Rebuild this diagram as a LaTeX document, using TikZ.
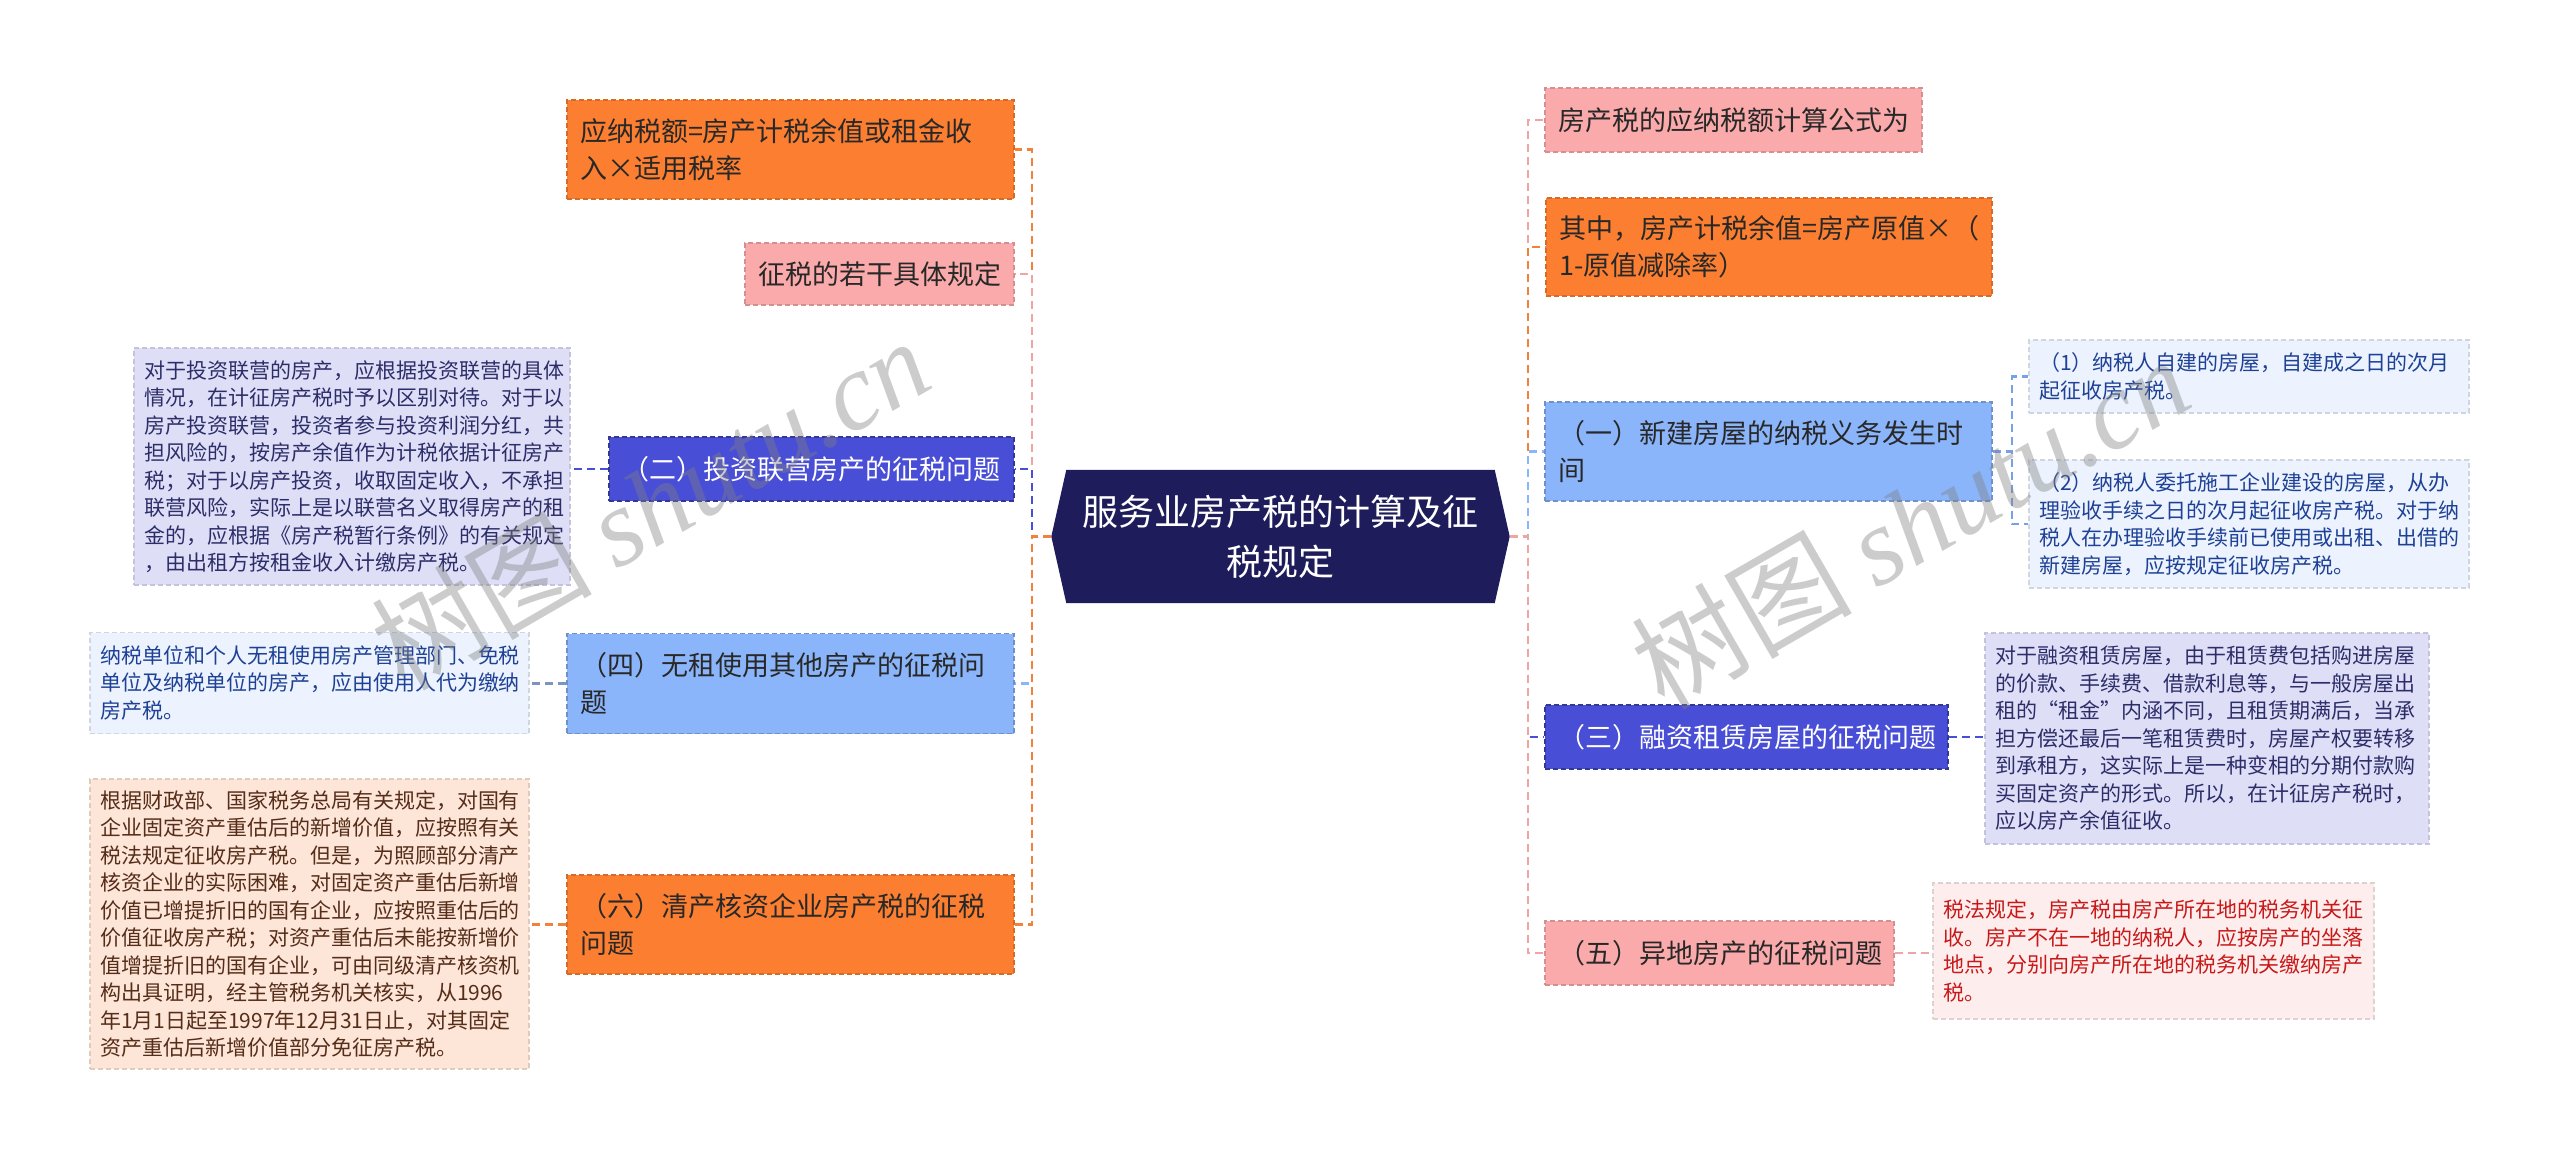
\documentclass[tikz,border=0pt]{standalone}
\usepackage{fontspec}
\setmainfont{Noto Sans CJK SC}
\newfontfamily\wmlatin{Liberation Serif}
\usetikzlibrary{backgrounds}
\definecolor{cOrange}{RGB}{252,126,48}
\definecolor{cPink}{RGB}{250,170,170}
\definecolor{cIndigo}{RGB}{73,78,214}
\definecolor{cLBlue}{RGB}{139,181,250}
\definecolor{cNavy}{RGB}{30,28,90}
\definecolor{cDark}{RGB}{40,40,40}
\definecolor{dLav}{RGB}{222,223,247}
\definecolor{dBlue}{RGB}{236,243,254}
\definecolor{dPeach}{RGB}{253,229,216}
\definecolor{dPink}{RGB}{253,237,237}
\definecolor{tNavy}{RGB}{45,45,105}
\definecolor{tBlue}{RGB}{30,65,150}
\definecolor{tBrown}{RGB}{85,45,25}
\definecolor{tRed}{RGB}{200,25,25}
\definecolor{eOrange}{RGB}{240,130,60}
\definecolor{ePink}{RGB}{240,165,165}
\definecolor{eIndigo}{RGB}{73,78,214}
\definecolor{eLBlue}{RGB}{139,181,250}
\definecolor{eGrayBlue}{RGB}{120,150,190}
\definecolor{eBracket}{RGB}{120,160,230}
\begin{document}
\begin{tikzpicture}[x=1pt,y=-1pt,
  conn/.style={line width=2.2pt, dash pattern=on 8pt off 5pt},
  mbox/.style={rectangle, line width=1.3pt, dash pattern=on 5pt off 3pt, inner xsep=13pt, inner ysep=6pt, align=left, font=\fontsize{27}{37}\selectfont},
  dbox/.style={rectangle, line width=1.1pt, dash pattern=on 5pt off 3pt, inner xsep=10pt, inner ysep=6pt, align=left, font=\fontsize{21}{27.5}\selectfont},
  wm/.style={text=gray, opacity=0.4, font=\fontsize{110}{120}\selectfont, inner sep=0pt},
]
\useasboundingbox (0,0) rectangle (2560,1159);

% central node
\node[font=\fontsize{36}{50}\selectfont, text=white, align=center, minimum width=428pt, minimum height=133pt, inner sep=0pt] (c) at (1280.5,536.5) {服务业房产税的计算及征\\税规定};
\coordinate (cL) at ([xshift=-15pt]c.west);
\coordinate (cR) at ([xshift=15pt]c.east);
\begin{scope}[on background layer]
\fill[white] (0,0) rectangle (2560,1159);
\fill[cNavy] (c.north west) -- (c.north east) -- (cR) -- (c.south east) -- (c.south west) -- (cL) -- cycle;
\end{scope}

% left main boxes
\node[mbox, fill=cOrange, draw=cOrange!85!black, text=cDark, minimum width=447pt, minimum height=99pt, text width=421pt] (l1) at (790.5,149.5) {应纳税额=房产计税余值或租金收\\入×适用税率};
\node[mbox, fill=cPink, draw=cPink!85!black, text=cDark, minimum width=269pt, minimum height=62pt, text width=243pt] (l2) at (879.5,274) {征税的若干具体规定};
\node[mbox, fill=cIndigo, draw=cIndigo!70!black, text=white, minimum width=405pt, minimum height=64pt, text width=379pt] (l3) at (811.5,469) {（二）投资联营房产的征税问题};
\node[mbox, fill=cLBlue, draw=cLBlue!80!black, text=cDark, minimum width=447pt, minimum height=100pt, text width=421pt] (l4) at (790.5,683.5) {（四）无租使用其他房产的征税问\\题};
\node[mbox, fill=cOrange, draw=cOrange!85!black, text=cDark, minimum width=447pt, minimum height=99pt, text width=421pt] (l5) at (790.5,924.5) {（六）清产核资企业房产税的征税\\问题};

% left detail boxes
\node[dbox, fill=dLav, draw=dLav!88!black, text=tNavy, minimum width=436pt, minimum height=237pt, text width=416pt] (d3) at (352,466.5) {对于投资联营的房产，应根据投资联营的具体\\情况，在计征房产税时予以区别对待。对于以\\房产投资联营，投资者参与投资利润分红，共\\担风险的，按房产余值作为计税依据计征房产\\税；对于以房产投资，收取固定收入，不承担\\联营风险，实际上是以联营名义取得房产的租\\金的，应根据《房产税暂行条例》的有关规定\\，由出租方按租金收入计缴房产税。};
\node[dbox, fill=dBlue, draw=dBlue!88!black, text=tBlue, minimum width=439pt, minimum height=101pt, text width=419pt] (d4) at (309.5,683) {纳税单位和个人无租使用房产管理部门、免税\\单位及纳税单位的房产，应由使用人代为缴纳\\房产税。};
\node[dbox, fill=dPeach, draw=dPeach!88!black, text=tBrown, minimum width=439pt, minimum height=290pt, text width=419pt] (d5) at (309.5,924) {根据财政部、国家税务总局有关规定，对国有\\企业固定资产重估后的新增价值，应按照有关\\税法规定征收房产税。但是，为照顾部分清产\\核资企业的实际困难，对固定资产重估后新增\\价值已增提折旧的国有企业，应按照重估后的\\价值征收房产税；对资产重估后未能按新增价\\值增提折旧的国有企业，可由同级清产核资机\\构出具证明，经主管税务机关核实，从1996\\年1月1日起至1997年12月31日止，对其固定\\资产重估后新增价值部分免征房产税。};

% right main boxes
\node[mbox, fill=cPink, draw=cPink!85!black, text=cDark, minimum width=377pt, minimum height=64pt, text width=351pt] (r1) at (1733.5,120) {房产税的应纳税额计算公式为};
\node[mbox, fill=cOrange, draw=cOrange!85!black, text=cDark, minimum width=446pt, minimum height=98pt, text width=420pt] (r2) at (1769,247) {其中，房产计税余值=房产原值×（\\1-原值减除率）};
\node[mbox, fill=cLBlue, draw=cLBlue!80!black, text=cDark, minimum width=447pt, minimum height=99pt, text width=421pt] (rA) at (1768.5,451.5) {（一）新建房屋的纳税义务发生时\\间};
\node[mbox, fill=cIndigo, draw=cIndigo!70!black, text=white, minimum width=403pt, minimum height=64pt, text width=377pt] (rB) at (1746.5,737) {（三）融资租赁房屋的征税问题};
\node[mbox, fill=cPink, draw=cPink!85!black, text=cDark, minimum width=349pt, minimum height=64pt, text width=323pt] (rC) at (1719.5,953) {（五）异地房产的征税问题};

% right detail boxes
\node[dbox, fill=dBlue, draw=dBlue!88!black, text=tBlue, minimum width=440pt, minimum height=73pt, text width=420pt] (r3) at (2249,376.5) {（1）纳税人自建的房屋，自建成之日的次月\\起征收房产税。};
\node[dbox, fill=dBlue, draw=dBlue!88!black, text=tBlue, minimum width=440pt, minimum height=128pt, text width=420pt] (r4) at (2249,524) {（2）纳税人委托施工企业建设的房屋，从办\\理验收手续之日的次月起征收房产税。对于纳\\税人在办理验收手续前已使用或出租、出借的\\新建房屋，应按规定征收房产税。};
\node[dbox, fill=dLav, draw=dLav!88!black, text=tNavy, minimum width=444pt, minimum height=211pt, text width=424pt] (rd3) at (2207,738.5) {对于融资租赁房屋，由于租赁费包括购进房屋\\的价款、手续费、借款利息等，与一般房屋出\\租的“租金”内涵不同，且租赁期满后，当承\\担方偿还最后一笔租赁费时，房屋产权要转移\\到承租方，这实际上是一种变相的分期付款购\\买固定资产的形式。所以，在计征房产税时，\\应以房产余值征收。};
\node[dbox, fill=dPink, draw=dPink!88!black, text=tRed, minimum width=441pt, minimum height=136pt, text width=421pt] (rd5) at (2153.5,951) {税法规定，房产税由房产所在地的税务机关征\\收。房产不在一地的纳税人，应按房产的坐落\\地点，分别向房产所在地的税务机关缴纳房产\\税。};

% left connectors
\draw[conn, draw=eOrange] (cL) -- ++(-19,0) |- (l1.east);
\draw[conn, draw=ePink] (cL) -- ++(-19,0) |- (l2.east);
\draw[conn, draw=eIndigo] (cL) -- ++(-19,0) |- (l3.east);
\draw[conn, draw=eLBlue] (cL) -- ++(-19,0) |- (l4.east);
\draw[conn, draw=eOrange] (cL) -- ++(-19,0) |- (l5.east);
% right connectors
\draw[conn, draw=ePink] (cR) -- ++(18,0) |- (r1.west);
\draw[conn, draw=eOrange] (cR) -- ++(18,0) |- (r2.west);
\draw[conn, draw=eLBlue] (cR) -- ++(18,0) |- (rA.west);
\draw[conn, draw=eIndigo] (cR) -- ++(18,0) |- (rB.west);
\draw[conn, draw=ePink] (cR) -- ++(18,0) |- (rC.west);
% detail connectors
\draw[conn, draw=eIndigo] (l3.west) -- (l3.west -| d3.east);
\draw[conn, draw=eGrayBlue] (l4.west) -- (l4.west -| d4.east);
\draw[conn, draw=eOrange] (l5.west) -- (l5.west -| d5.east);
\draw[conn, draw=eBracket] (rA.east) -- ++(19,0) |- (r3.west);
\draw[conn, draw=eBracket] (rA.east) -- ++(19,0) |- (r4.west);
\draw[conn, draw=eIndigo] (rB.east) -- (rB.east -| rd3.west);
\draw[conn, draw=ePink] (rC.east) -- (rC.east -| rd5.west);

% watermarks
\node[wm, rotate=30] (wm1) at (650,503) {树图 {\wmlatin\itshape shutu.cn}};
\node[wm, rotate=30] (wm2) at (1910,522) {树图 {\wmlatin\itshape shutu.cn}};
\end{tikzpicture}
\end{document}
